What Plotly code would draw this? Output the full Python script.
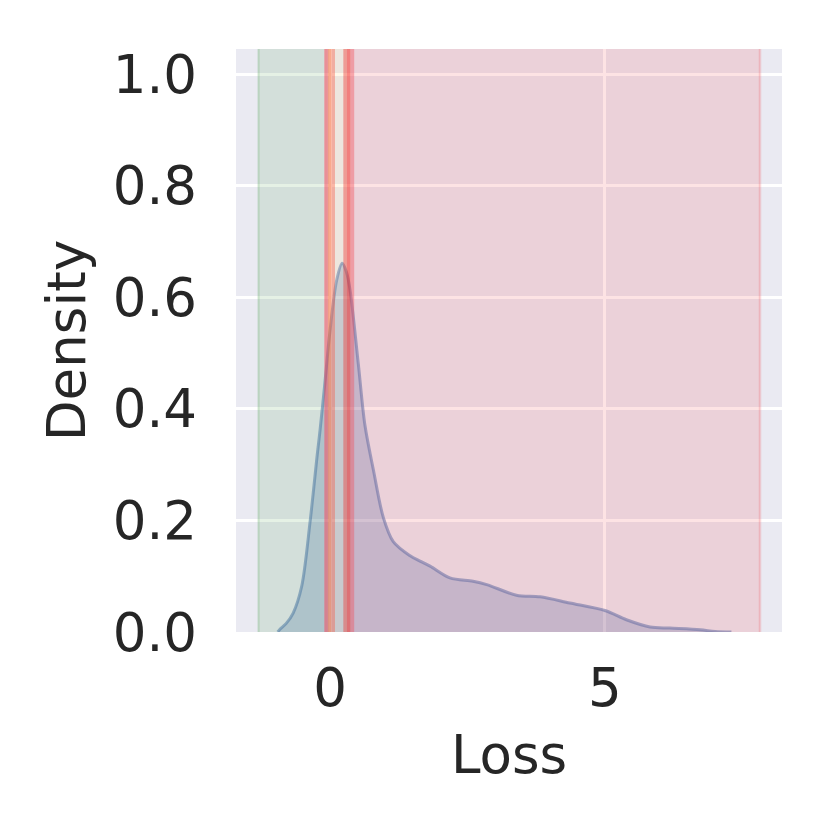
import plotly.graph_objects as go

# KDE of the loss values
loss_x = [-0.95, -0.91, -0.8, -0.67, -0.515, -0.36, -0.23, -0.18, -0.1, 0.0, 0.12, 0.22,
          0.3, 0.364, 0.515, 0.636, 0.79, 0.97, 1.15, 1.45, 1.636, 1.82, 2.18, 2.6,
          2.85, 3.39, 3.82, 4.36, 5.0, 5.39, 5.82, 6.18, 6.73, 7.0, 7.3]
density = [0.0, 0.005, 0.015, 0.034, 0.082, 0.2, 0.32, 0.363, 0.44, 0.54, 0.63, 0.661,
           0.645, 0.613, 0.48, 0.37, 0.29, 0.205, 0.162, 0.137, 0.127, 0.118, 0.097, 0.091,
           0.085, 0.066, 0.063, 0.052, 0.0385, 0.022, 0.009, 0.007, 0.004, 0.001, 0.0]

# shaded regions along the loss axis
green_span = [-1.30, -0.104]
mid_span = [0.09, 0.242]
red_span = [0.44, 7.82]
band_left = [-0.104, 0.09]
band_right = [0.242, 0.44]

y_ticks = [0.0, 0.2, 0.4, 0.6, 0.8, 1.0]
x_ticks = [0, 5]

FONT = dict(family="DejaVu Sans", size=53, color="#262626")

fig = go.Figure()
fig.add_trace(go.Scatter(
    x=loss_x, y=density, mode="lines", fill="tozeroy",
    line=dict(color="rgba(76,114,176,0.55)", width=3, shape="spline", smoothing=0.9),
    fillcolor="rgba(76,114,176,0.27)", hoverinfo="skip", showlegend=False,
))


def span(x0, x1, color, opacity):
    fig.add_shape(type="rect", xref="x", yref="paper", x0=x0, x1=x1, y0=0, y1=1,
                  fillcolor=color, opacity=opacity, line_width=0, layer="above")


def vline(x, color, width, opacity):
    fig.add_shape(type="line", xref="x", yref="paper", x0=x, x1=x, y0=0, y1=1,
                  line=dict(color=color, width=width), opacity=opacity, layer="above")


span(green_span[0], green_span[1], "#51A152", 0.15)
span(mid_span[0], mid_span[1], "#FFCF6D", 0.15)
span(red_span[0], red_span[1], "#F0434B", 0.15)
vline(green_span[0], "#51A152", 2, 0.25)
vline(red_span[1], "#F0434B", 2.5, 0.2)

# thick threshold bands
bl = band_left
w = (bl[1] - bl[0]) / 3
span(bl[0], bl[0] + w, "#E8454E", 0.55)
span(bl[0] + w, bl[0] + 2 * w, "#F4622E", 0.55)
span(bl[0] + 2 * w, bl[1], "#F8704E", 0.5)
br = band_right
w = (br[1] - br[0]) / 3
span(br[0], br[0] + w, "#F24E38", 0.5)
span(br[0] + w, br[0] + 2 * w, "#F6261E", 0.55)
span(br[0] + 2 * w, br[1], "#F24E58", 0.5)

fig.update_layout(
    width=832, height=832,
    margin=dict(l=228, r=58, t=41, b=208),
    paper_bgcolor="white", plot_bgcolor="#EAEAF2",
    font=FONT, showlegend=False,
)
fig.update_xaxes(
    range=[-1.71, 8.22], tickvals=x_ticks, ticktext=[str(v) for v in x_ticks],
    showgrid=True, gridcolor="white", gridwidth=3, zeroline=False, showline=False,
    ticks="", ticklabelstandoff=20, tickfont=FONT,
    title=dict(text="Loss", font=FONT, standoff=18),
)
fig.update_yaxes(
    range=[0, 1.045], tickvals=y_ticks, tickformat=".1f",
    showgrid=True, gridcolor="white", gridwidth=3, zeroline=False, showline=False,
    ticks="", ticklabelstandoff=38, tickfont=FONT,
    title=dict(text="Density", font=FONT, standoff=10),
)

fig.write_html("out.html")
